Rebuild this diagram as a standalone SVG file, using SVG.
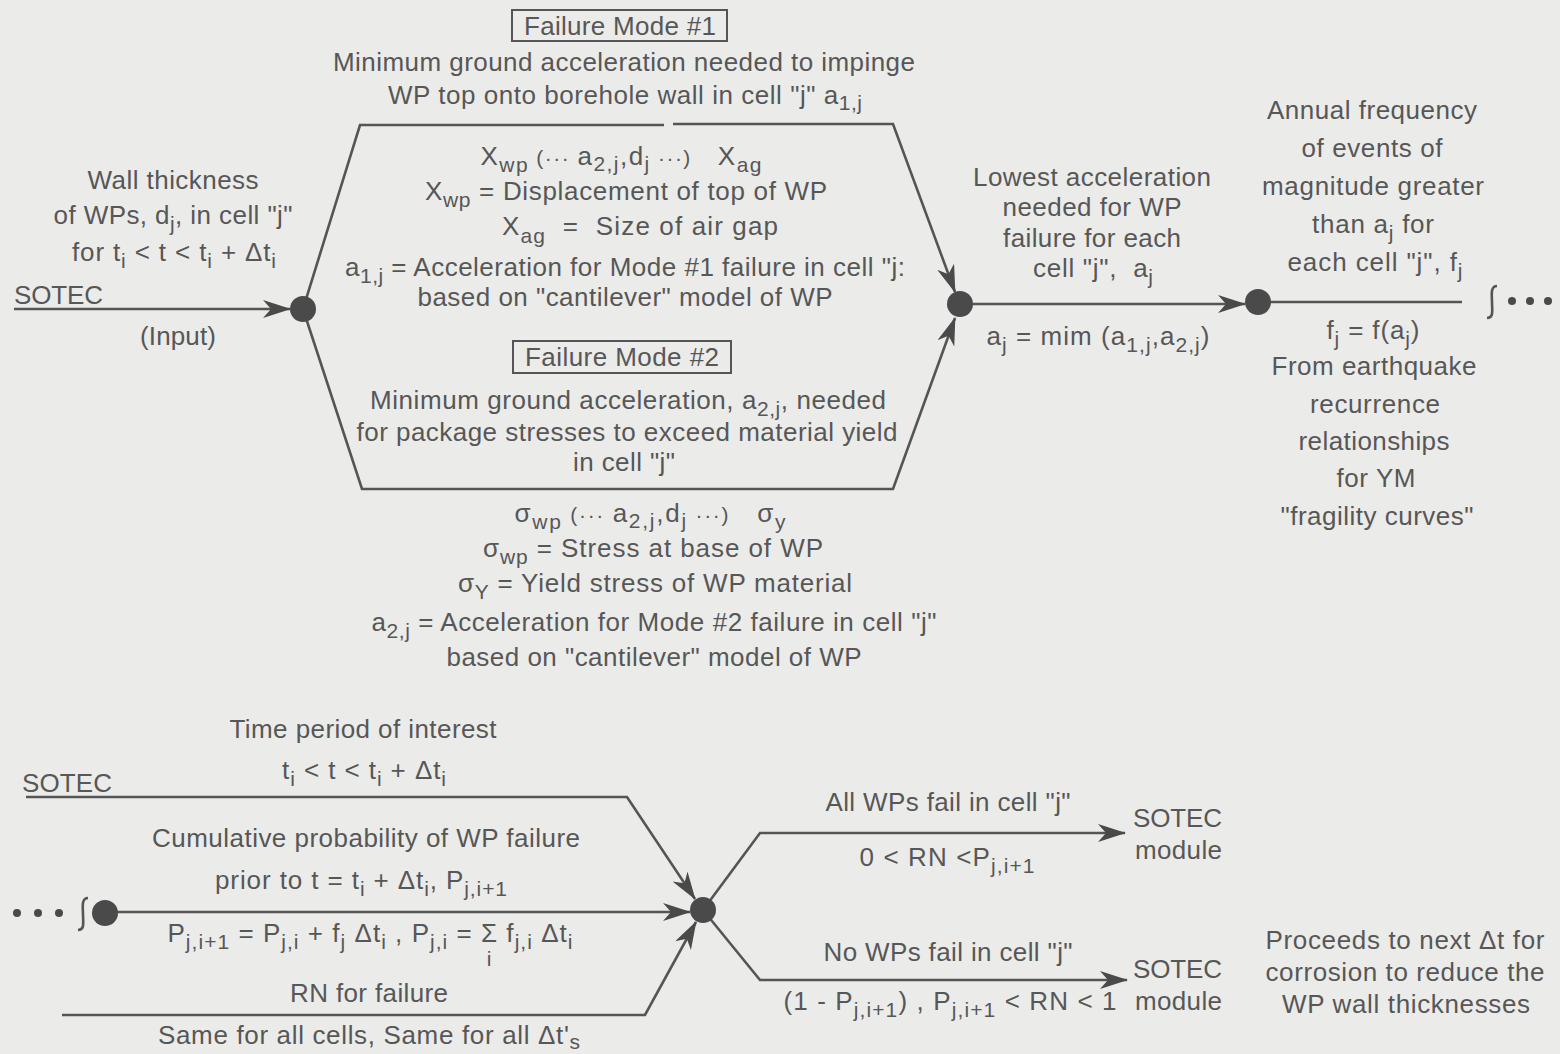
<svg xmlns="http://www.w3.org/2000/svg" width="1560" height="1054" viewBox="0 0 1560 1054">
<style>
text{font-family:"Liberation Sans",Arial,sans-serif;font-size:26px;fill:#575757}
.m{text-anchor:middle}
.sub{font-size:21px}
.ln{fill:none;stroke:#555;stroke-width:2.6;stroke-linejoin:miter}
.node{fill:#4a4a4a}
.box{fill:none;stroke:#555;stroke-width:2}
</style>
<defs>
<marker id="arr" markerUnits="userSpaceOnUse" markerWidth="32" markerHeight="20" refX="27" refY="9" orient="auto">
<path d="M0,0 L28,9 L0,18 L8,9 z" fill="#4a4a4a"/>
</marker>
</defs>
<rect width="1560" height="1054" fill="#ebebe9"/>

<g id="connectors">
<path class="ln" d="M14,309 H290" marker-end="url(#arr)"/>
<path class="ln" d="M303,309 L360,125 H664"/>
<path class="ln" d="M673,124 H893 L955,292" marker-end="url(#arr)"/>
<path class="ln" d="M303,309 L362,489 H893 L955,318" marker-end="url(#arr)"/>
<path class="ln" d="M960,304 H1245" marker-end="url(#arr)"/>
<path class="ln" d="M1258,302 H1462"/>
<path class="ln" d="M26,797 H627 L695,899" marker-end="url(#arr)"/>
<path class="ln" d="M105,912 H690" marker-end="url(#arr)"/>
<path class="ln" d="M62,1015 H645 L696,922" marker-end="url(#arr)"/>
<path class="ln" d="M703,910 L760,833 H1125" marker-end="url(#arr)"/>
<path class="ln" d="M703,910 L760,980 H1127" marker-end="url(#arr)"/>
<path class="ln" d="M1497,286 C1490,286 1492,296 1492,302 C1492,310 1494,318 1487,318" stroke-width="2"/>
<circle class="node" cx="1512" cy="301" r="4"/>
<circle class="node" cx="1530" cy="301" r="4"/>
<circle class="node" cx="1548" cy="301" r="4"/>
<circle class="node" cx="17" cy="913" r="4"/>
<circle class="node" cx="38" cy="913" r="4"/>
<circle class="node" cx="59" cy="913" r="4"/>
<path class="ln" d="M88,898 C81,898 83,908 83,914 C83,922 85,930 78,930" stroke-width="2"/>
</g>

<g id="node-input">
<circle class="node" cx="303" cy="309" r="13"/>
<text x="173" y="189" class="m" textLength="171">Wall thickness</text>
<text x="173" y="224" class="m" textLength="239">of WPs, d<tspan class="sub" dy="7">j</tspan><tspan dy="-7">, in cell "j"</tspan></text>
<text x="174" y="261" class="m" textLength="204">for t<tspan class="sub" dy="7">i</tspan><tspan dy="-7"> &lt; t &lt; t</tspan><tspan class="sub" dy="7">i</tspan><tspan dy="-7"> + Δt</tspan><tspan class="sub" dy="7">i</tspan></text>
<text x="14" y="304" textLength="89">SOTEC</text>
<text x="178" y="345" class="m" textLength="76">(Input)</text>
</g>

<g id="mode1">
<rect class="box" x="512" y="10" width="215" height="31"/>
<text x="620" y="35" class="m" textLength="192">Failure Mode #1</text>
<text x="624" y="71" class="m" textLength="582">Minimum ground acceleration needed to impinge</text>
<text x="625" y="104" class="m" textLength="474">WP top onto borehole wall in cell "j" a<tspan class="sub" dy="6">1,j</tspan></text>
<text x="621" y="165" class="m" textLength="281">X<tspan class="sub" dy="7">wp</tspan><tspan class="sub" dy="-7">&#160;(···&#160;</tspan><tspan>a</tspan><tspan class="sub" dy="6">2,j</tspan><tspan dy="-6">,d</tspan><tspan class="sub" dy="6">j</tspan><tspan class="sub" dy="-6">&#160;···)</tspan><tspan>&#160;&#160;&#160;X</tspan><tspan class="sub" dy="7">ag</tspan></text>
<text x="626" y="200" class="m" textLength="402">X<tspan class="sub" dy="7">wp</tspan><tspan dy="-7"> = Displacement of top of WP</tspan></text>
<text x="640" y="235" class="m" textLength="276">X<tspan class="sub" dy="8">ag</tspan><tspan dy="-8">&#160;&#160;=&#160;&#160;Size of air gap</tspan></text>
<text x="625" y="276" class="m" textLength="560">a<tspan class="sub" dy="7">1,j</tspan><tspan dy="-7"> = Acceleration for Mode #1 failure in cell "j:</tspan></text>
<text x="625" y="306" class="m" textLength="415">based on "cantilever" model of WP</text>
</g>

<g id="mode2">
<rect class="box" x="513" y="341" width="218" height="32"/>
<text x="622" y="366" class="m" textLength="194">Failure Mode #2</text>
<text x="628" y="409" class="m" textLength="516">Minimum ground acceleration, a<tspan class="sub" dy="7">2,j</tspan><tspan dy="-7">, needed</tspan></text>
<text x="627" y="441" class="m" textLength="541">for package stresses to exceed material yield</text>
<text x="624" y="471" class="m" textLength="102">in cell "j"</text>
<text x="650" y="522" class="m" textLength="271">σ<tspan class="sub" dy="7">wp</tspan><tspan class="sub" dy="-7">&#160;(···&#160;</tspan><tspan>a</tspan><tspan class="sub" dy="6">2,j</tspan><tspan dy="-6">,d</tspan><tspan class="sub" dy="6">j</tspan><tspan class="sub" dy="-6">&#160;···)</tspan><tspan>&#160;&#160;&#160;σ</tspan><tspan class="sub" dy="7">y</tspan></text>
<text x="653" y="557" class="m" textLength="340">σ<tspan class="sub" dy="7">wp</tspan><tspan dy="-7"> = Stress at base of WP</tspan></text>
<text x="655" y="592" class="m" textLength="394">σ<tspan class="sub" dy="7">Y</tspan><tspan dy="-7"> = Yield stress of WP material</tspan></text>
<text x="654" y="631" class="m" textLength="565">a<tspan class="sub" dy="7">2,j</tspan><tspan dy="-7"> = Acceleration for Mode #2 failure in cell "j"</tspan></text>
<text x="654" y="666" class="m" textLength="415">based on "cantilever" model of WP</text>
</g>

<g id="node-min">
<circle class="node" cx="960" cy="304" r="13"/>
<text x="1092" y="186" class="m" textLength="238">Lowest acceleration</text>
<text x="1092" y="216" class="m" textLength="179">needed for WP</text>
<text x="1092" y="247" class="m" textLength="178">failure for each</text>
<text x="1093" y="277" class="m" textLength="120">cell "j",&#160;&#160;a<tspan class="sub" dy="7">j</tspan></text>
<text x="1098" y="345" class="m" textLength="223">a<tspan class="sub" dy="7">j</tspan><tspan dy="-7"> = mim (a</tspan><tspan class="sub" dy="7">1,j</tspan><tspan dy="-7">,a</tspan><tspan class="sub" dy="7">2,j</tspan><tspan dy="-7">)</tspan></text>
</g>

<g id="node-freq">
<circle class="node" cx="1258" cy="302" r="13"/>
<text x="1372" y="119" class="m" textLength="210">Annual frequency</text>
<text x="1372" y="157" class="m" textLength="141">of events of</text>
<text x="1373" y="195" class="m" textLength="222">magnitude greater</text>
<text x="1373" y="233" class="m" textLength="122">than a<tspan class="sub" dy="7">j</tspan><tspan dy="-7"> for</tspan></text>
<text x="1375" y="271" class="m" textLength="175">each cell "j", f<tspan class="sub" dy="7">j</tspan></text>
<text x="1373" y="339" class="m" textLength="93">f<tspan class="sub" dy="7">j</tspan><tspan dy="-7"> = f(a</tspan><tspan class="sub" dy="7">j</tspan><tspan dy="-7">)</tspan></text>
<text x="1374" y="375" class="m" textLength="205">From earthquake</text>
<text x="1375" y="413" class="m" textLength="130">recurrence</text>
<text x="1374" y="450" class="m" textLength="151">relationships</text>
<text x="1376" y="487" class="m" textLength="79">for YM</text>
<text x="1377" y="525" class="m" textLength="193">"fragility curves"</text>
</g>

<g id="node-prob-start">
<circle class="node" cx="105" cy="913" r="13"/>
</g>

<g id="node-decision">
<circle class="node" cx="703" cy="910" r="13"/>
<text x="363" y="738" class="m" textLength="267">Time period of interest</text>
<text x="364" y="779" class="m" textLength="164">t<tspan class="sub" dy="7">i</tspan><tspan dy="-7"> &lt; t &lt; t</tspan><tspan class="sub" dy="7">i</tspan><tspan dy="-7"> + Δt</tspan><tspan class="sub" dy="7">i</tspan></text>
<text x="22" y="792" textLength="90">SOTEC</text>
<text x="366" y="847" class="m" textLength="428">Cumulative probability of WP failure</text>
<text x="361" y="889" class="m" textLength="292">prior to t = t<tspan class="sub" dy="7">i</tspan><tspan dy="-7"> + Δt</tspan><tspan class="sub" dy="7">i</tspan><tspan dy="-7">, P</tspan><tspan class="sub" dy="7">j,i+1</tspan></text>
<text x="370" y="942" class="m" textLength="405">P<tspan class="sub" dy="7">j,i+1</tspan><tspan dy="-7"> = P</tspan><tspan class="sub" dy="7">j,i</tspan><tspan dy="-7"> + f</tspan><tspan class="sub" dy="7">j</tspan><tspan dy="-7"> Δt</tspan><tspan class="sub" dy="7">i</tspan><tspan dy="-7"> , P</tspan><tspan class="sub" dy="7">j,i</tspan><tspan dy="-7"> = Σ f</tspan><tspan class="sub" dy="7">j,i</tspan><tspan dy="-7"> Δt</tspan><tspan class="sub" dy="7">i</tspan></text>
<text x="489" y="966" class="m sub">i</text>
<text x="369" y="1002" class="m" textLength="158">RN for failure</text>
<text x="369" y="1044" class="m" textLength="422">Same for all cells, Same for all Δt'<tspan class="sub" dy="5">s</tspan></text>
</g>

<g id="branch-fail">
<text x="948" y="811" class="m" textLength="245">All WPs fail in cell "j"</text>
<text x="947" y="866" class="m" textLength="175">0 &lt; RN &lt;P<tspan class="sub" dy="7">j,i+1</tspan></text>
</g>
<g id="node-sotec-fail">
<text x="1133" y="827" textLength="89">SOTEC</text>
<text x="1135" y="859" textLength="87">module</text>
</g>

<g id="branch-nofail">
<text x="948" y="961" class="m" textLength="249">No WPs fail in cell "j"</text>
<text x="950" y="1010" class="m" textLength="333">(1 - P<tspan class="sub" dy="7">j,i+1</tspan><tspan dy="-7">) , P</tspan><tspan class="sub" dy="7">j,i+1</tspan><tspan dy="-7"> &lt; RN &lt; 1</tspan></text>
</g>
<g id="node-sotec-nofail">
<text x="1133" y="978" textLength="89">SOTEC</text>
<text x="1135" y="1010" textLength="87">module</text>
<text x="1405" y="949" class="m" textLength="279">Proceeds to next Δt for</text>
<text x="1405" y="981" class="m" textLength="279">corrosion to reduce the</text>
<text x="1406" y="1013" class="m" textLength="248">WP wall thicknesses</text>
</g>
</svg>
